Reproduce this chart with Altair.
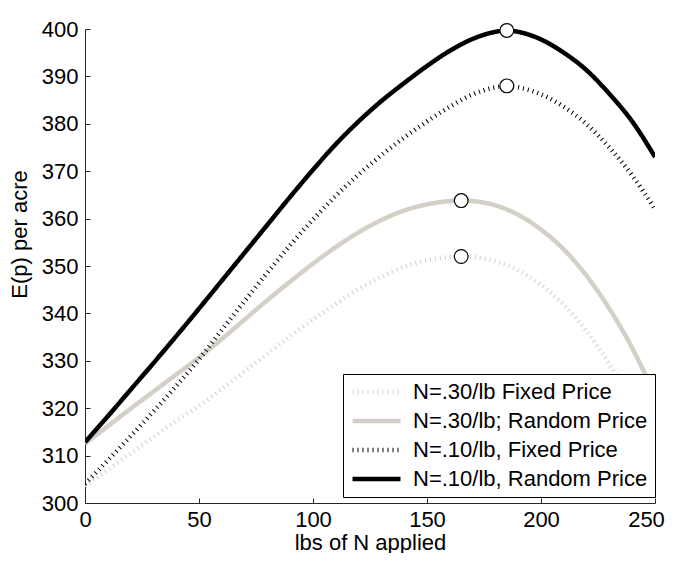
import altair as alt
import pandas as pd

# ---- data ----
series_names = [
    "N=.30/lb Fixed Price",
    "N=.30/lb; Random Price",
    "N=.10/lb, Fixed Price",
    "N=.10/lb, Random Price",
]

x_black = [0, 10, 20, 30, 40, 50, 60, 70, 80, 90, 100, 110, 120, 130, 140, 150,
           160, 170, 180, 185, 190, 200, 210, 220, 230, 240, 250]
x_gray = [0, 10, 20, 30, 40, 50, 60, 70, 80, 90, 100, 110, 120, 130, 140, 150,
          160, 165, 170, 180, 190, 200, 210, 220, 230, 240, 250]

y_30_fixed = [303.5, 307.0, 310.5, 313.9, 317.3, 320.5, 324.1, 327.8, 331.5, 335.2,
              338.7, 342.0, 345.1, 347.7, 349.8, 351.2, 351.9, 352.0, 351.9, 351.0,
              349.1, 346.0, 341.8, 336.2, 329.3, 321.0, 311.0]
y_30_random = [312.5, 316.2, 319.9, 323.5, 327.1, 330.7, 334.6, 338.7, 342.8, 346.7,
               350.5, 354.0, 357.1, 359.7, 361.7, 363.0, 363.7, 363.8, 363.7, 362.8,
               360.8, 357.7, 353.5, 347.9, 341.0, 332.7, 322.7]
y_10_fixed = [304.0, 309.0, 314.1, 319.3, 324.7, 330.3, 336.5, 342.6, 348.6, 354.4,
              359.8, 364.8, 369.3, 373.4, 377.1, 380.5, 383.6, 386.2, 387.7, 388.0,
              387.7, 386.2, 383.6, 379.9, 375.0, 369.1, 362.0]
y_10_random = [312.8, 318.3, 323.9, 329.5, 335.2, 341.0, 346.9, 352.8, 358.7, 364.6,
               370.3, 375.7, 380.5, 384.8, 388.6, 392.2, 395.4, 397.9, 399.4, 399.7,
               399.4, 397.8, 395.0, 391.3, 386.3, 380.5, 373.0]

peak_x = [165, 165, 185, 185]
peak_y = [352.0, 363.8, 388.0, 399.7]

x_ticks = [0, 50, 100, 150, 200, 250]
y_ticks = [300, 310, 320, 330, 340, 350, 360, 370, 380, 390, 400]

# ---- tables ----
rows = []
for name, xs, ys in [
    (series_names[0], x_gray, y_30_fixed),
    (series_names[1], x_gray, y_30_random),
    (series_names[2], x_black, y_10_fixed),
    (series_names[3], x_black, y_10_random),
]:
    for xv, yv in zip(xs, ys):
        rows.append({"series": name, "x": xv, "y": yv})
lines_df = pd.DataFrame(rows)
peaks_df = pd.DataFrame({"x": peak_x, "y": peak_y})

FONT = "Liberation Sans"
GRAY = "#d4d0c8"
AXIS_COLOR = "#262626"

x_scale = alt.Scale(domain=[0, 250], nice=False, zero=False)
y_scale = alt.Scale(domain=[300, 400], nice=False, zero=False)

legend = alt.Legend(
    orient="none", legendX=258, legendY=345, title=None,
    strokeColor="black", fillColor="white", padding=7,
    symbolType="stroke", symbolSize=2304, labelFont=FONT, labelFontSize=22,
    labelColor="black", labelOffset=10, rowPadding=7, clipHeight=22, labelLimit=400,
)

lines = alt.Chart(lines_df).mark_line(interpolate="monotone", clip=True).encode(
    x=alt.X("x:Q", scale=x_scale, title="lbs of N applied",
            axis=alt.Axis(values=x_ticks, ticks=False, grid=False, domainColor=AXIS_COLOR,
                          labelFont=FONT, labelFontSize=22, labelColor="black",
                          labelPadding=6, titleFont=FONT, titleFontSize=22,
                          titleFontWeight="normal", titleColor="black", titlePadding=2,
                          labelFlush=False,
                          labelOffset={"expr": "datum.value == 250 ? -9 : 0"})),
    y=alt.Y("y:Q", scale=y_scale, title="E(p) per acre",
            axis=alt.Axis(values=y_ticks, ticks=False, grid=False, domainColor=AXIS_COLOR,
                          labelFont=FONT, labelFontSize=22, labelColor="black",
                          labelPadding=7, titleFont=FONT, titleFontSize=22,
                          titleFontWeight="normal", titleColor="black", titlePadding=10,
                          titleY=205, labelFlush=False)),
    color=alt.Color("series:N", scale=alt.Scale(domain=series_names,
                    range=[GRAY, GRAY, "black", "black"]), legend=legend),
    strokeDash=alt.StrokeDash("series:N", scale=alt.Scale(domain=series_names,
                    range=[[1, 4], [1, 0], [1, 4], [1, 0]]), legend=legend),
    strokeWidth=alt.StrokeWidth("series:N", scale=alt.Scale(domain=series_names,
                    range=[4.5, 4.5, 4.5, 4.5]), legend=legend),
    order=alt.Order("x:Q"),
)

markers = alt.Chart(peaks_df).mark_point(
    shape="circle", filled=True, fill="white", stroke="black", strokeWidth=1.2,
    size=190, opacity=1,
).encode(
    x=alt.X("x:Q", scale=x_scale,
            axis=alt.Axis(orient="top", offset=-474, values=x_ticks, labels=False,
                          domain=False, grid=False, ticks=True, tickSize=5,
                          tickColor=AXIS_COLOR, title=None)),
    y=alt.Y("y:Q", scale=y_scale,
            axis=alt.Axis(orient="right", offset=-570, values=y_ticks, labels=False,
                          domain=False, grid=False, ticks=True, tickSize=5,
                          tickColor=AXIS_COLOR, title=None)),
)

chart = alt.layer(lines, markers).resolve_axis(x="independent", y="independent").properties(
    width=570, height=474,
    autosize=alt.AutoSizeParams(type="none"),
    padding={"left": 77, "top": 21, "right": 12, "bottom": 50},
).configure_view(stroke=None)

chart.save("out.html", embed_options={"renderer": "svg", "actions": False})
